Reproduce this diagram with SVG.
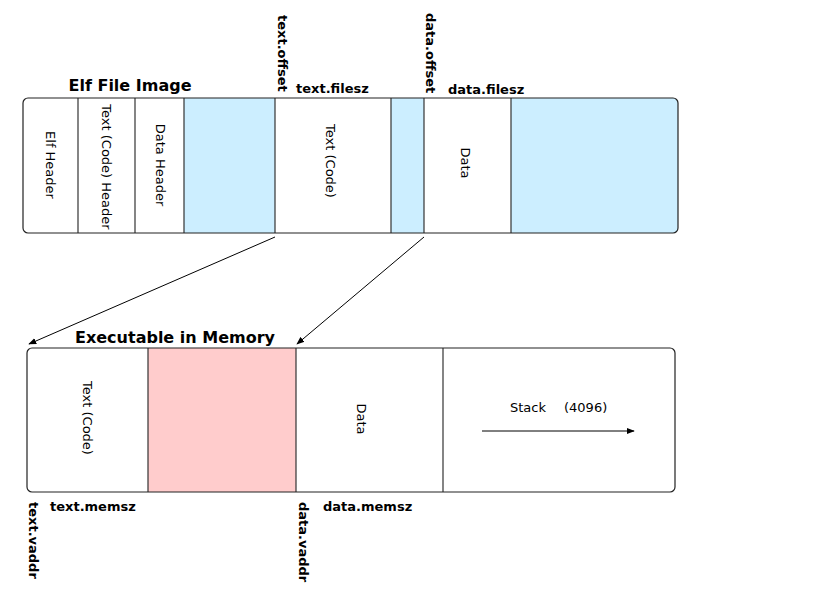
<svg xmlns="http://www.w3.org/2000/svg" width="819" height="600" viewBox="0 0 819 600">
<style>
.t{font-family:"DejaVu Sans",sans-serif;font-size:13px;fill:#000}
.b{font-family:"DejaVu Sans",sans-serif;font-size:13px;font-weight:bold;fill:#000}
.h{font-family:"DejaVu Sans",sans-serif;font-size:16px;font-weight:bold;fill:#000}
.div{stroke:#333;stroke-width:1.2}
.box{fill:none;stroke:#222;stroke-width:1.2}
.con{stroke:#000;stroke-width:1;fill:none;marker-end:url(#ah)}
</style>
<defs>
<marker id="ah" viewBox="0 0 10 10" refX="9" refY="5" markerWidth="8" markerHeight="8" markerUnits="userSpaceOnUse" orient="auto"><path d="M0,1 L10,5 L0,9 Z" fill="#000"/></marker>
<clipPath id="c1"><rect x="23" y="98" width="655" height="135" rx="5"/></clipPath>
<clipPath id="c2"><rect x="27" y="348" width="648" height="144" rx="5"/></clipPath>
</defs>
<rect width="819" height="600" fill="#fff"/>
<g id="elf-image">
<text class="h" x="130" y="91" text-anchor="middle">Elf File Image</text>
<rect x="23" y="98" width="655" height="135" rx="5" fill="#fff"/>
<g clip-path="url(#c1)" fill="#cceeff">
<rect x="184" y="98" width="91" height="135"/>
<rect x="391" y="98" width="33" height="135"/>
<rect x="511" y="98" width="167" height="135"/>
</g>
<line class="div" x1="78" y1="98" x2="78" y2="233" stroke="#666"/>
<line class="div" x1="135" y1="98" x2="135" y2="233"/>
<line class="div" x1="184" y1="98" x2="184" y2="233"/>
<line class="div" x1="275" y1="98" x2="275" y2="233"/>
<line class="div" x1="391" y1="98" x2="391" y2="233"/>
<line class="div" x1="424" y1="98" x2="424" y2="233"/>
<line class="div" x1="511" y1="98" x2="511" y2="233"/>
<rect class="box" x="23" y="98" width="655" height="135" rx="5"/>
<text class="t" transform="translate(50,165) rotate(90)" text-anchor="middle" dominant-baseline="central">Elf Header</text>
<text class="t" transform="translate(106,167) rotate(90)" text-anchor="middle" dominant-baseline="central">Text (Code) Header</text>
<text class="t" transform="translate(160,165) rotate(90)" text-anchor="middle" dominant-baseline="central">Data Header</text>
<text class="t" transform="translate(330,161) rotate(90)" text-anchor="middle" dominant-baseline="central">Text (Code)</text>
<text class="t" transform="translate(465,163) rotate(90)" text-anchor="middle" dominant-baseline="central">Data</text>
<text class="b" transform="translate(278,15) rotate(90)" text-anchor="start">text.offset</text>
<text class="b" x="296" y="93">text.filesz</text>
<text class="b" transform="translate(426,13) rotate(90)" text-anchor="start">data.offset</text>
<text class="b" x="448" y="94">data.filesz</text>
</g>
<g id="memory">
<text class="h" x="175" y="343" text-anchor="middle">Executable in Memory</text>
<rect x="27" y="348" width="648" height="144" rx="5" fill="#fff"/>
<g clip-path="url(#c2)">
<rect x="148" y="348" width="148" height="144" fill="#ffcccc"/>
</g>
<line class="div" x1="148" y1="348" x2="148" y2="492" stroke="#6a5a5a"/>
<line class="div" x1="296" y1="348" x2="296" y2="492" stroke="#6a5a5a"/>
<line class="div" x1="443" y1="348" x2="443" y2="492"/>
<rect class="box" x="27" y="348" width="648" height="144" rx="5"/>
<text class="t" transform="translate(87,418) rotate(90)" text-anchor="middle" dominant-baseline="central">Text (Code)</text>
<text class="t" transform="translate(361,419) rotate(90)" text-anchor="middle" dominant-baseline="central">Data</text>
<text class="t" x="510" y="412">Stack</text>
<text class="t" x="564" y="412">(4096)</text>
<line x1="482" y1="431" x2="634" y2="431" stroke="#000" stroke-width="1" marker-end="url(#ah)"/>
<text class="b" x="50" y="511">text.memsz</text>
<text class="b" x="323" y="511">data.memsz</text>
<text class="b" transform="translate(29,502) rotate(90)" text-anchor="start">text.vaddr</text>
<text class="b" transform="translate(299,502) rotate(90)" text-anchor="start">data.vaddr</text>
</g>
<g id="connectors">
<line class="con" x1="275" y1="237" x2="29" y2="344"/>
<line class="con" x1="424" y1="237" x2="297" y2="344"/>
</g>
</svg>
